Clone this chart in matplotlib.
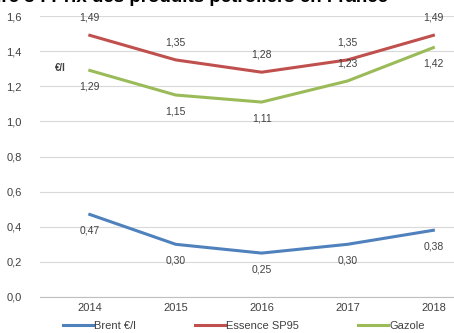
import matplotlib.pyplot as plt
import numpy as np

plt.rcParams['font.family'] = ['Liberation Sans', 'DejaVu Sans']

years = ['2014', '2015', '2016', '2017', '2018']
brent = [0.47, 0.30, 0.25, 0.30, 0.38]
essence = [1.49, 1.35, 1.28, 1.35, 1.49]
gazole = [1.29, 1.15, 1.11, 1.23, 1.42]

# label position for each point: 1 = above, -1 = below
essence_pos = [1, 1, 1, 1, 1]
gazole_pos = [-1, -1, -1, 1, -1]
brent_pos = [-1, -1, -1, -1, -1]

W, H = 454, 333
fig = plt.figure(figsize=(W / 100, H / 100), dpi=100)
ax = fig.add_axes([40 / W, 1 - 297 / H, 414 / W, (297 - 16) / H])

x = np.arange(len(years))
series = [
    (brent, brent_pos, '#4F81BD', 'Brent €/l'),
    (essence, essence_pos, '#C0504D', 'Essence SP95'),
    (gazole, gazole_pos, '#9BBB59', 'Gazole'),
]
lines = []
for vals, pos, col, name in series:
    ln, = ax.plot(x, vals, color=col, lw=2.2, label=name, zorder=3)
    lines.append(ln)
    for xi, v, p in zip(x, vals, pos):
        off = 12.5 if p > 0 else -11.5
        ax.annotate(f'{v:.2f}'.replace('.', ','), (xi, v),
                    xytext=(0, off), textcoords='offset points',
                    ha='center', va='center', fontsize=7.5, color='#404040')

ax.set_xlim(-0.58, 4.24)
ax.set_ylim(0, 1.6)
ax.set_yticks(np.arange(0, 1.61, 0.2))
ax.set_yticklabels([f'{t:.1f}'.replace('.', ',') for t in np.arange(0, 1.61, 0.2)])
ax.set_xticks(x)
ax.set_xticklabels(years)
ax.grid(axis='y', color='#d9d9d9', lw=0.8)
ax.set_axisbelow(True)
for s in ['top', 'right', 'left']:
    ax.spines[s].set_visible(False)
ax.spines['bottom'].set_color('#bfbfbf')
ax.tick_params(length=0, labelsize=8, colors='#404040')
ax.tick_params(axis='x', pad=4)
ax.tick_params(axis='y', pad=13)

ax.text(55 / W, 1 - 68 / H, '€/l', transform=fig.transFigure, fontsize=7,
        fontweight='bold', color='#404040', va='center')

fig.text(388 / W, 1 + 2 / H, 'Figure 3 : Prix des produits pétroliers en France',
         ha='right', va='center', fontsize=13.5, fontweight='bold')

fig.legend(handles=lines, loc='center', bbox_to_anchor=(244 / W, 1 - 326 / H),
           ncol=3, frameon=False, fontsize=8, handlelength=2.7,
           handletextpad=0.1, columnspacing=5.3, labelcolor='#404040')

fig.savefig('out.png', dpi=100)
